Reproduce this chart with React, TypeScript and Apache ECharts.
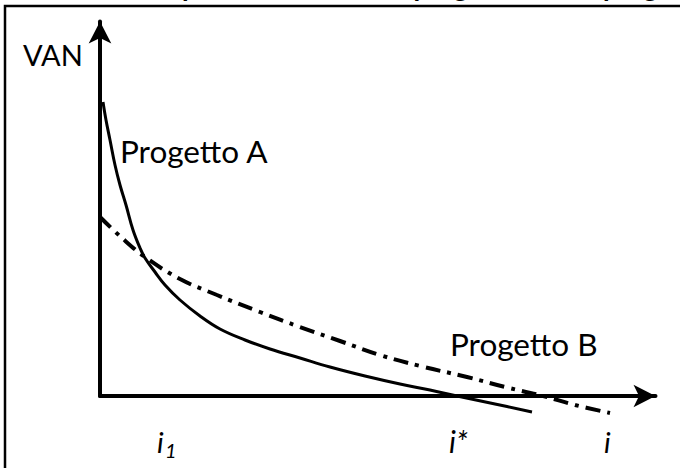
import React, { useEffect, useRef } from "react";
import * as echarts from "echarts";

// Progetto A: tasso (asse orizzontale) e VAN (asse verticale), unità del grafico
const tassoA = [3, 6, 10, 15, 20, 26, 33, 40, 45, 55, 65, 80, 100, 120, 145, 170, 200, 230, 265, 300, 330, 357, 395, 432];
const vanA = [294, 276, 256, 231, 211, 191, 166, 148, 138, 124, 111, 96, 80, 67, 56, 47, 38, 29, 20, 12, 6, 0, -8, -16];

// Progetto B
const tassoB = [0, 22, 45, 80, 117, 160, 200, 240, 280, 320, 367, 405, 443, 475, 510];
const vanB = [179, 158, 139, 117, 101, 84, 69, 55, 41, 30, 19, 9, 0, -9, -17];

const xMax = 555.5;
const yMax = 374.5;

const titolo = "Il tasso di Fisher per il confronto tra progetto A ed il progetto B";
const etichettaY = "VAN";
const etichettaA = "Progetto A";
const etichettaB = "Progetto B";

const FONT = "Lato, 'Open Sans', sans-serif";

export default function App() {
  const ref = useRef<HTMLDivElement>(null);
  useEffect(() => {
    if (!ref.current) return;
    const chart = echarts.init(ref.current, undefined, { renderer: "svg" });
    const axisLine = {
      show: true,
      onZero: true,
      symbol: ["none", "arrow"],
      symbolSize: [17, 22],
      lineStyle: { color: "#000", width: 4 },
    };
    chart.setOption({
      animation: false,
      backgroundColor: "#fff",
      grid: { left: 100, right: 24.5, top: 21.5, bottom: 72 },
      xAxis: {
        type: "value",
        min: 0,
        max: xMax,
        axisLine,
        axisTick: { show: false },
        axisLabel: { show: false },
        splitLine: { show: false },
      },
      yAxis: {
        type: "value",
        min: 0,
        max: yMax,
        axisLine,
        axisTick: { show: false },
        axisLabel: { show: false },
        splitLine: { show: false },
      },
      series: [
        {
          type: "line",
          name: etichettaA,
          data: tassoA.map((x, i) => [x, vanA[i]]),
          smooth: 0.4,
          clip: false,
          showSymbol: false,
          lineStyle: { color: "#000", width: 3 },
          z: 3,
        },
        {
          type: "line",
          name: etichettaB,
          data: tassoB.map((x, i) => [x, vanB[i]]),
          smooth: 0.4,
          clip: false,
          showSymbol: false,
          lineStyle: { color: "#000", width: 4, type: [15, 7, 4, 7] },
          z: 3,
        },
      ],
      graphic: [
        {
          type: "rect",
          shape: { x: 5, y: 6, width: 800, height: 600 },
          style: { fill: "none", stroke: "#000", lineWidth: 2.5 },
          z: 10,
        },
        {
          type: "text",
          x: -17,
          y: -14,
          style: { text: titolo, font: `bold 27px ${FONT}`, fill: "#000", verticalAlign: "middle", align: "left" },
        },
        {
          type: "text",
          x: 23,
          y: 54,
          style: { text: etichettaY, font: `29px ${FONT}`, fill: "#000", verticalAlign: "middle", align: "left" },
        },
        {
          type: "text",
          x: 120,
          y: 151,
          style: { text: etichettaA, font: `31.5px ${FONT}`, fill: "#000", verticalAlign: "middle", align: "left" },
        },
        {
          type: "text",
          x: 450,
          y: 344,
          style: { text: etichettaB, font: `31.5px ${FONT}`, fill: "#000", verticalAlign: "middle", align: "left" },
        },
        {
          type: "text",
          x: 157,
          y: 441,
          style: { text: "i", font: `italic 29px ${FONT}`, fill: "#000", verticalAlign: "middle", align: "left" },
        },
        {
          type: "text",
          x: 165,
          y: 450,
          style: { text: "1", font: `italic 20px ${FONT}`, fill: "#000", verticalAlign: "middle", align: "left" },
        },
        {
          type: "text",
          x: 449,
          y: 441,
          style: { text: "i*", font: `italic 30px ${FONT}`, fill: "#000", verticalAlign: "middle", align: "left" },
        },
        {
          type: "text",
          x: 604,
          y: 441,
          style: { text: "i", font: `italic 29px ${FONT}`, fill: "#000", verticalAlign: "middle", align: "left" },
        },
      ],
    });
    return () => chart.dispose();
  }, []);
  return (
    <div
      ref={ref}
      style={{ position: "absolute", left: 0, top: 0, width: 680, height: 468, background: "#fff" }}
    />
  );
}
